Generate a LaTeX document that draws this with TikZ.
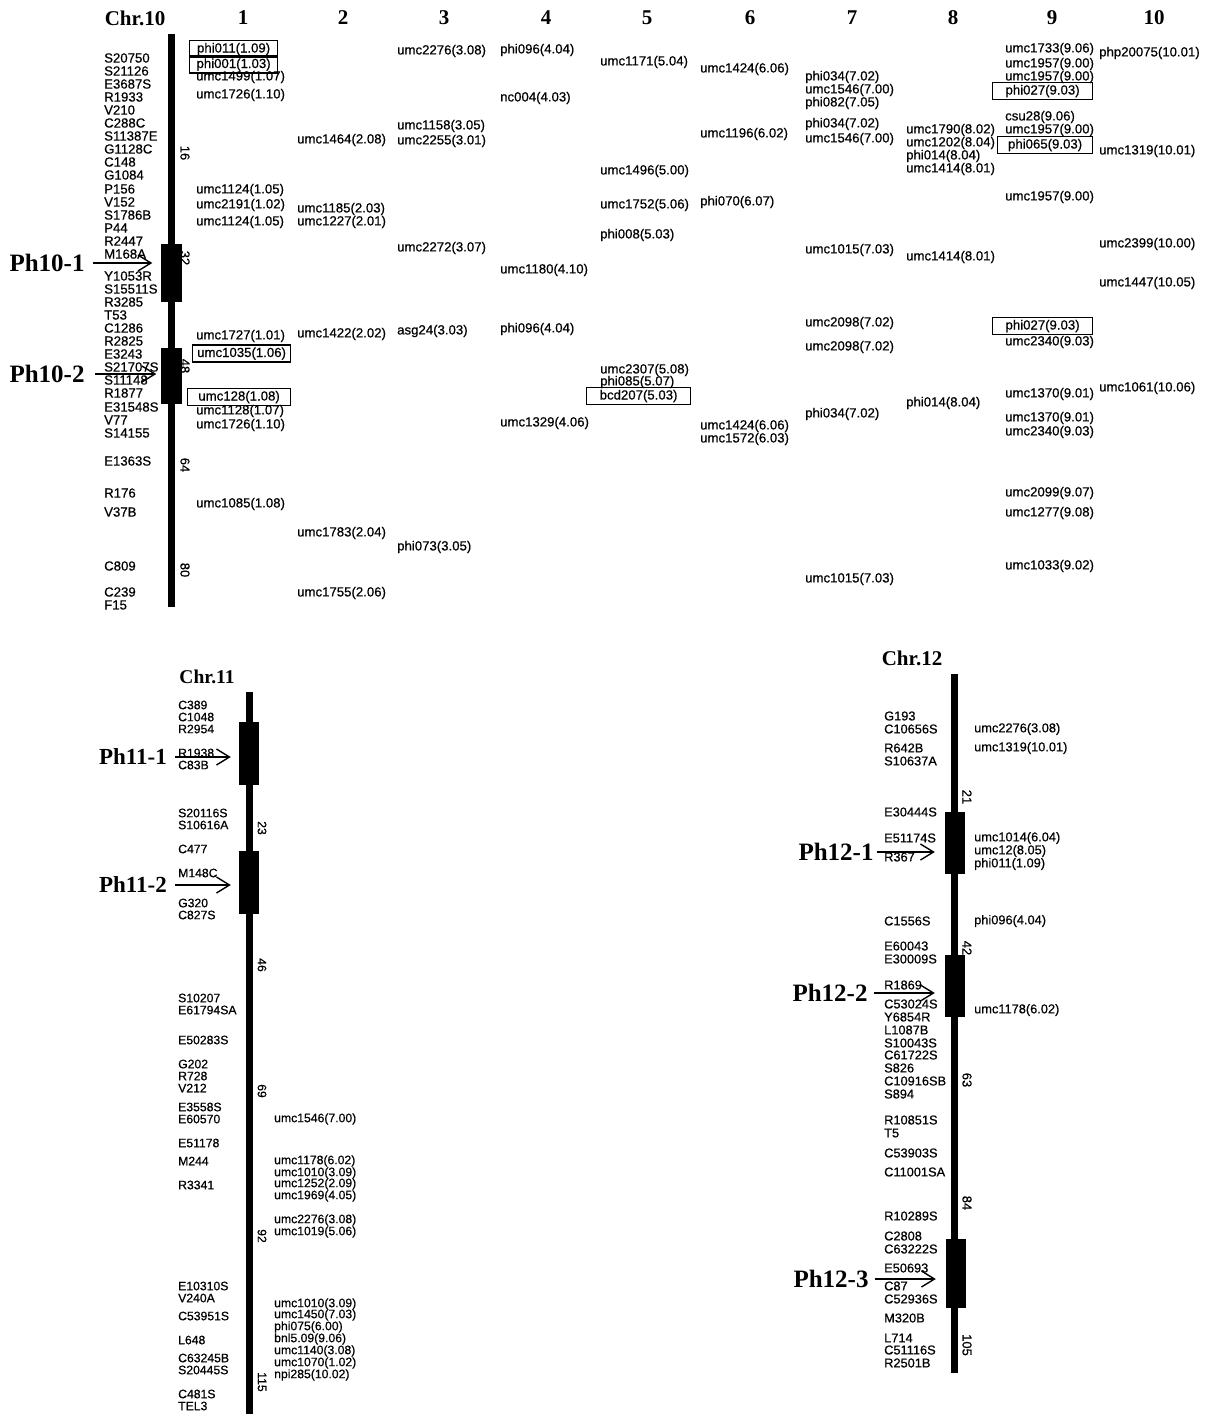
\documentclass[tikz,border=0pt]{standalone}
\usepackage{fontspec}
\setmainfont{Liberation Serif}
\setsansfont{Liberation Sans}
\newfontfamily\scansans{Liberation Sans}[FakeBold=0.6]
\usetikzlibrary{arrows.meta}

\begin{document}
\begin{tikzpicture}[x=1pt, y=-1pt,
    mrk/.style={anchor=west, inner sep=0pt, font=\scansans\fontsize{13.2}{13.2}\selectfont},
    mrks/.style={mrk, font=\scansans\fontsize{12.2}{12.2}\selectfont},
    mrkm/.style={mrk, font=\scansans\fontsize{12.8}{12.8}\selectfont},
    boxd/.style={mrk, draw, line width=1.2pt, inner xsep=0pt, inner ysep=2pt, text height=10pt, text depth=3pt},
    hdr/.style={font=\bfseries\fontsize{21}{21}\selectfont},
    phl/.style={inner sep=0pt, font=\bfseries\fontsize{25}{25}\selectfont},
    dist/.style={rotate=-90, inner sep=0pt, font=\scansans\fontsize{13}{13}\selectfont},
    blk/.style={rectangle, fill=black, inner sep=0pt, minimum width=21pt},
    arrow/.style={-{Straight Barb[length=13pt,width=16pt]}, line width=1.4pt}]

    \useasboundingbox (0,0) rectangle (1210,1414);

    % Chr.10 - heads
    \node[hdr] (chr10) at (135,18) {Chr.10};
    \foreach \x/\n in {243/1,343/2,444/3,546/4,647/5,750/6,852/7,953/8,1052/9,1154/10}
        \node[hdr] (col\n) at (\x,18) {\n};

    % Chr.10 - bar and blocks
    \fill (167.5,34) rectangle (174.5,607);
    \node[blk, minimum height=58pt] (b101) at (171,273) {};
    \node[blk, minimum height=56pt] (b102) at (171,376) {};
    \foreach \yy/\d in {153/16,258/32,366/48,465/64,570/80}
        \node[dist] (d10-\d) at (185,\yy) {\d};

    % Chr.10 - loci
    \foreach \yy/\txt [count=\i] in {58/S20750,71/S21126,84/E3687S,97/R1933,110/V210,123/C288C,136/S11387E,149/G1128C,162/C148,175/G1084,189/P156,202/V152,215/S1786B,228/P44,241/R2447,254/M168A,276/Y1053R,289/S15511S,302/R3285,315/T53,328/C1286,341/R2825,354/E3243,367/S21707S,380/S11148,393/R1877,407/E31548S,420/V77,433/S14155,461/E1363S,493/R176,512/V37B,566/C809,592/C239,605/F15}
        \node[mrk] (l10-\i) at (104,\yy) {\txt};

    % Chr.10 - SSR markers, columns 1 to 10
    \foreach \yy/\txt [count=\i] in {77/umc1499(1.07),95/umc1726(1.10),190/umc1124(1.05),205/umc2191(1.02),222/umc1124(1.05),336/umc1727(1.01),411/umc1128(1.07),425/umc1726(1.10),504/umc1085(1.08)}
        \node[mrk] (m1-\i) at (196,\yy) {\txt};
    \node[boxd, minimum width=88pt] (m1-b1) at (189,49) {phi011(1.09)};
    \node[boxd, minimum width=88pt] (m1-b2) at (189,64.5) {phi001(1.03)};
    \node[boxd, minimum width=98pt] (m1-b3) at (192,353.5) {umc1035(1.06)};
    \node[boxd, minimum width=103pt] (m1-b4) at (187,397) {umc128(1.08)};

    \foreach \yy/\txt [count=\i] in {140/umc1464(2.08),209/umc1185(2.03),222/umc1227(2.01),334/umc1422(2.02),533/umc1783(2.04),593/umc1755(2.06)}
        \node[mrk] (m2-\i) at (297,\yy) {\txt};
    \foreach \yy/\txt [count=\i] in {51/umc2276(3.08),126/umc1158(3.05),141/umc2255(3.01),248/umc2272(3.07),331/asg24(3.03),547/phi073(3.05)}
        \node[mrk] (m3-\i) at (397,\yy) {\txt};
    \foreach \yy/\txt [count=\i] in {50/phi096(4.04),98/nc004(4.03),270/umc1180(4.10),329/phi096(4.04),423/umc1329(4.06)}
        \node[mrk] (m4-\i) at (500,\yy) {\txt};
    \foreach \yy/\txt [count=\i] in {62/umc1171(5.04),171/umc1496(5.00),205/umc1752(5.06),235/phi008(5.03),370/umc2307(5.08),382/phi085(5.07)}
        \node[mrk] (m5-\i) at (600,\yy) {\txt};
    \node[boxd, minimum width=104pt] (m5-b1) at (586,396) {bcd207(5.03)};
    \foreach \yy/\txt [count=\i] in {69/umc1424(6.06),134/umc1196(6.02),202/phi070(6.07),426/umc1424(6.06),439/umc1572(6.03)}
        \node[mrk] (m6-\i) at (700,\yy) {\txt};
    \foreach \yy/\txt [count=\i] in {77/phi034(7.02),90/umc1546(7.00),103/phi082(7.05),124/phi034(7.02),139/umc1546(7.00),250/umc1015(7.03),323/umc2098(7.02),347/umc2098(7.02),414/phi034(7.02),579/umc1015(7.03)}
        \node[mrk] (m7-\i) at (805,\yy) {\txt};
    \foreach \yy/\txt [count=\i] in {130/umc1790(8.02),143/umc1202(8.04),156/phi014(8.04),169/umc1414(8.01),257/umc1414(8.01),403/phi014(8.04)}
        \node[mrk] (m8-\i) at (906,\yy) {\txt};
    \foreach \yy/\txt [count=\i] in {49/umc1733(9.06),64/umc1957(9.00),77/umc1957(9.00),117/csu28(9.06),130/umc1957(9.00),197/umc1957(9.00),342/umc2340(9.03),394/umc1370(9.01),418/umc1370(9.01),432/umc2340(9.03),493/umc2099(9.07),513/umc1277(9.08),566/umc1033(9.02)}
        \node[mrk] (m9-\i) at (1005,\yy) {\txt};
    \node[boxd, minimum width=100pt] (m9-b1) at (992,91) {phi027(9.03)};
    \node[boxd, minimum width=95pt] (m9-b2) at (997,145) {phi065(9.03)};
    \node[boxd, minimum width=100pt] (m9-b3) at (992,326) {phi027(9.03)};
    \foreach \yy/\txt [count=\i] in {53/php20075(10.01),151/umc1319(10.01),244/umc2399(10.00),283/umc1447(10.05),388/umc1061(10.06)}
        \node[mrk] (m10-\i) at (1099,\yy) {\txt};

    % Chr.11
    \node[hdr, font=\bfseries\fontsize{19.5}{19.5}\selectfont] (chr11) at (207,677) {Chr.11};
    \fill (245.5,692) rectangle (252.5,1414);
    \node[blk, minimum width=20pt, minimum height=63pt] (b111) at (249,753.5) {};
    \node[blk, minimum width=20pt, minimum height=63pt] (b112) at (249,882.5) {};
    \foreach \yy/\d in {828/23,965/46,1091/69,1236/92,1382/115}
        \node[dist, font=\scansans\fontsize{12.2}{12.2}\selectfont] (d11-\d) at (262,\yy) {\d};
    \foreach \yy/\txt [count=\i] in {705/C389,717/C1048,729/R2954,753/R1938,765/C83B,813/S20116S,825/S10616A,849/C477,873/M148C,903/G320,915/C827S,998/S10207,1010/E61794SA,1040/E50283S,1064/G202,1076/R728,1088/V212,1107/E3558S,1119/E60570,1143/E51178,1161/M244,1185/R3341,1286/E10310S,1298/V240A,1316/C53951S,1340/L648,1358/C63245B,1370/S20445S,1394/C481S,1406/TEL3}
        \node[mrks] (l11-\i) at (178,\yy) {\txt};
    \foreach \yy/\txt [count=\i] in {1119/umc1546(7.00),1161/umc1178(6.02),1173/umc1010(3.09),1184/umc1252(2.09),1196/umc1969(4.05),1220/umc2276(3.08),1232/umc1019(5.06),1304/umc1010(3.09),1315/umc1450(7.03),1327/phi075(6.00),1339/bnl5.09(9.06),1351/umc1140(3.08),1363/umc1070(1.02),1375/npi285(10.02)}
        \node[mrks] (m11-\i) at (274,\yy) {\txt};

    % Chr.12
    \node[hdr] (chr12) at (912,658) {Chr.12};
    \fill (950.5,674) rectangle (957.5,1373);
    \node[blk, minimum width=20pt, minimum height=62pt] (b121) at (955,843) {};
    \node[blk, minimum width=20pt, minimum height=62pt] (b122) at (955,986) {};
    \node[blk, minimum width=20pt, minimum height=69pt] (b123) at (956,1273.5) {};
    \foreach \yy/\d in {797/21,948/42,1080/63,1203/84,1345/105}
        \node[dist] (d12-\d) at (967,\yy) {\d};
    \foreach \yy/\txt [count=\i] in {716/G193,729/C10656S,748/R642B,761/S10637A,812/E30444S,838/E51174S,857/R367,921/C1556S,946/E60043,959/E30009S,985/R1869,1004/C53024S,1017/Y6854R,1030/L1087B,1043/S10043S,1055/C61722S,1068/S826,1081/C10916SB,1094/S894,1120/R10851S,1133/T5,1153/C53903S,1172/C11001SA,1216/R10289S,1236/C2808,1249/C63222S,1268/E50693,1286/C87,1299/C52936S,1318/M320B,1338/L714,1350/C51116S,1363/R2501B}
        \node[mrkm] (l12-\i) at (884,\yy) {\txt};
    \foreach \yy/\txt [count=\i] in {729/umc2276(3.08),748/umc1319(10.01),838/umc1014(6.04),851/umc12(8.05),864/phi011(1.09),921/phi096(4.04),1010/umc1178(6.02)}
        \node[mrkm] (m12-\i) at (974,\yy) {\txt};

    % Ph regions
    \node[phl] (ph101) at (47,263) {Ph10-1};
    \node[phl] (ph102) at (47,374) {Ph10-2};
    \node[phl, font=\bfseries\fontsize{23}{23}\selectfont] (ph111) at (133,757) {Ph11-1};
    \node[phl, font=\bfseries\fontsize{23}{23}\selectfont] (ph112) at (133,885) {Ph11-2};
    \node[phl] (ph121) at (836,852) {Ph12-1};
    \node[phl] (ph122) at (830,993) {Ph12-2};
    \node[phl] (ph123) at (831,1279) {Ph12-3};

    % Arrows
    \draw[arrow, shorten <=8pt, shorten >=8pt] (ph101.east) -- (ph101.east -| b101.west);
    \draw[arrow, shorten <=10pt, shorten >=4pt] (ph102.east) -- (ph102.east -| b102.west);
    \draw[arrow, shorten <=8pt, shorten >=8pt] (ph111.east) -- (ph111.east -| b111.west);
    \draw[arrow, shorten <=8pt, shorten >=8pt] (ph112.east) -- (ph112.east -| b112.west);
    \draw[arrow, shorten <=3pt, shorten >=10pt] (ph121.east) -- (ph121.east -| b121.west);
    \draw[arrow, shorten <=6pt, shorten >=10pt] (ph122.east) -- (ph122.east -| b122.west);
    \draw[arrow, shorten <=6pt, shorten >=10pt] (ph123.east) -- (ph123.east -| b123.west);
\end{tikzpicture}
\end{document}
